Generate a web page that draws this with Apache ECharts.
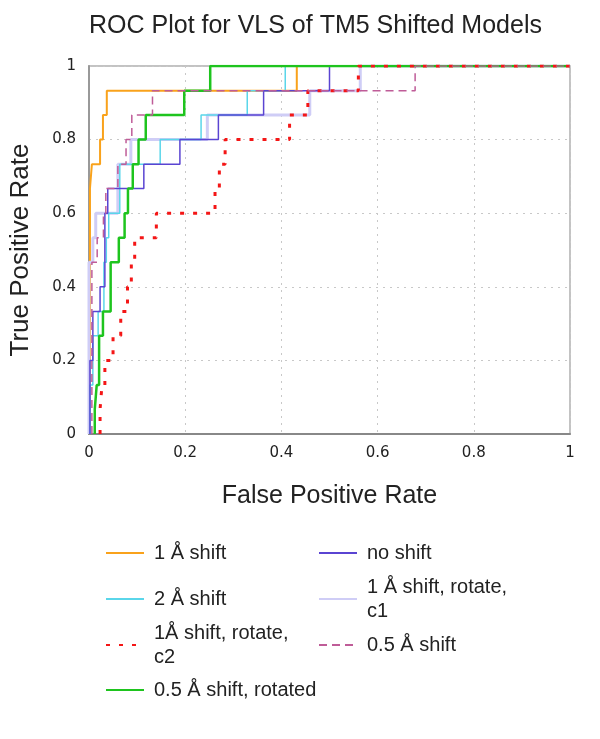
<!DOCTYPE html>
<html>
<head>
<meta charset="utf-8">
<script src="https://cdn.jsdelivr.net/npm/echarts@6/dist/echarts.min.js"></script>
<style>
html,body{margin:0;padding:0;background:#fff;}
#chart{width:600px;height:739px;}
</style>
</head>
<body>
<div id="chart"></div>
<script>
// Axis ticks
const ticks = [0, 0.2, 0.4, 0.6, 0.8, 1];

// Series names
const names = [
  '1 Å shift', '2 Å shift', '1Å shift, rotate,\nc2', '0.5 Å shift, rotated',
  'no shift', '1 Å shift, rotate,\nc1', '0.5 Å shift'
];

// ROC corner points (step 'end'): False Positive Rate / True Positive Rate
const fpr1A = [0.002, 0.002, 0.006, 0.023, 0.029, 0.037, 0.432, 1];
const tpr1A = [0, 0.667, 0.733, 0.8, 0.867, 0.933, 1, 1];

const fpr2A = [0.002, 0.002, 0.008, 0.019, 0.031, 0.036, 0.041, 0.064, 0.148, 0.233, 0.329, 0.408, 1];
const tpr2A = [0, 0.133, 0.267, 0.333, 0.467, 0.533, 0.6, 0.733, 0.8, 0.867, 0.933, 1, 1];

const fprC2 = [0.023, 0.023, 0.027, 0.033, 0.05, 0.066, 0.08, 0.088, 0.095, 0.14, 0.262, 0.271, 0.283, 0.417, 0.455, 0.56, 1];
const tprC2 = [0, 0.067, 0.133, 0.2, 0.267, 0.333, 0.4, 0.467, 0.533, 0.6, 0.667, 0.733, 0.8, 0.867, 0.933, 1, 1];

const fprHalfRot = [0.012, 0.012, 0.016, 0.021, 0.029, 0.045, 0.062, 0.074, 0.081, 0.091, 0.103, 0.118, 0.198, 0.252, 1];
const tprHalfRot = [0, 0.067, 0.133, 0.267, 0.333, 0.467, 0.533, 0.6, 0.667, 0.733, 0.8, 0.867, 0.933, 1, 1];

const fprNo = [0.002, 0.002, 0.008, 0.023, 0.033, 0.039, 0.114, 0.189, 0.269, 0.363, 0.5, 1];
const tprNo = [0, 0.2, 0.333, 0.4, 0.6, 0.667, 0.733, 0.8, 0.867, 0.933, 1, 1];

const fprC1 = [0, 0, 0.008, 0.014, 0.06, 0.087, 0.246, 0.459, 0.564, 1];
const tprC1 = [0, 0.467, 0.533, 0.6, 0.733, 0.8, 0.867, 0.933, 1, 1];

const fprHalf = [0.006, 0.006, 0.017, 0.030, 0.035, 0.060, 0.077, 0.089, 0.132, 0.678, 1];
const tprHalf = [0, 0.467, 0.533, 0.6, 0.667, 0.733, 0.8, 0.867, 0.933, 1, 1];

function pts(xs, ys) { return xs.map((x, i) => [x, ys[i]]); }

const FONT = '"Liberation Sans", Arial, sans-serif';
const TICKFONT = '"DejaVu Sans", Verdana, sans-serif';

const styles = {
  '1 Å shift': {color: '#f9a21b', width: 2, type: 'solid'},
  '2 Å shift': {color: '#5ad6ea', width: 1.5, type: 'solid'},
  '1Å shift, rotate,\nc2': {color: '#f41616', width: 3, type: [4, 9]},
  '0.5 Å shift, rotated': {color: '#1ec41e', width: 2.5, type: 'solid'},
  'no shift': {color: '#5a44d2', width: 1.5, type: 'solid'},
  '1 Å shift, rotate,\nc1': {color: '#cfcdf6', width: 3, type: 'solid'},
  '0.5 Å shift': {color: '#bf5c98', width: 1.5, type: [8, 5]}
};

function mk(name, xs, ys, z) {
  const s = styles[name];
  return {
    name: name, type: 'line', step: 'end', data: pts(xs, ys),
    symbol: 'none', showSymbol: false, z: z, animation: false,
    color: s.color,
    lineStyle: {color: s.color, width: s.width, type: s.type}
  };
}

const series = [
  mk('1 Å shift', fpr1A, tpr1A, 2),
  mk('1 Å shift, rotate,\nc1', fprC1, tprC1, 3),
  mk('2 Å shift', fpr2A, tpr2A, 4),
  mk('no shift', fprNo, tprNo, 5),
  mk('0.5 Å shift, rotated', fprHalfRot, tprHalfRot, 6),
  mk('1Å shift, rotate,\nc2', fprC2, tprC2, 7),
  mk('0.5 Å shift', fprHalf, tprHalf, 8)
];

function leg(name, left, top) {
  return {
    data: [name], left: left, top: top, padding: 0,
    itemWidth: 38, itemHeight: 14, selectedMode: false,
    itemStyle: {opacity: 0},
    textStyle: {fontFamily: FONT, fontSize: 20, color: '#222', lineHeight: 24, padding: [0, 0, 0, 5]}
  };
}

const fmt = v => (v === 0 ? '0' : v === 1 ? '1' : String(Math.round(v * 10) / 10));

const option = {
  backgroundColor: '#fff',
  animation: false,
  title: {
    text: 'ROC Plot for VLS of TM5 Shifted Models',
    left: 84, top: 9,
    textStyle: {fontFamily: FONT, fontSize: 25, fontWeight: 'normal', color: '#222'}
  },
  legend: [
    leg(names[0], 105, 541),
    leg(names[1], 105, 587),
    leg(names[2], 105, 621),
    leg(names[3], 105, 678),
    leg(names[4], 318, 541),
    leg(names[5], 318, 575),
    leg(names[6], 318, 633)
  ],
  grid: {left: 86, right: 30, top: 66, bottom: 305, show: true, borderColor: '#b0b0b0', borderWidth: 1.5, backgroundColor: '#fff'},
  xAxis: {
    type: 'value', min: ticks[0], max: ticks[ticks.length - 1], interval: 0.2,
    name: 'False Positive Rate', nameLocation: 'middle', nameGap: 50,
    nameTextStyle: {fontFamily: FONT, fontSize: 25, color: '#222'},
    axisLine: {show: true, onZero: false, lineStyle: {color: '#888', width: 2}},
    axisTick: {show: false},
    axisLabel: {fontFamily: TICKFONT, fontSize: 15, color: '#222', margin: 12, formatter: fmt},
    splitLine: {show: true, lineStyle: {color: '#c8c8c8', type: [2, 5], width: 1}}
  },
  yAxis: {
    type: 'value', min: ticks[0], max: ticks[ticks.length - 1], interval: 0.2,
    name: 'True Positive Rate', nameLocation: 'middle', nameGap: 55,
    nameTextStyle: {fontFamily: FONT, fontSize: 26, color: '#222'},
    axisLine: {show: true, onZero: false, lineStyle: {color: '#999', width: 2}},
    axisTick: {show: false},
    axisLabel: {fontFamily: TICKFONT, fontSize: 15, color: '#222', margin: 13, formatter: fmt},
    splitLine: {show: true, lineStyle: {color: '#c8c8c8', type: [2, 5], width: 1}}
  },
  series: series
};

const chart = echarts.init(document.getElementById('chart'), null, {renderer: 'canvas'});
chart.setOption(option);
</script>
</body>
</html>
